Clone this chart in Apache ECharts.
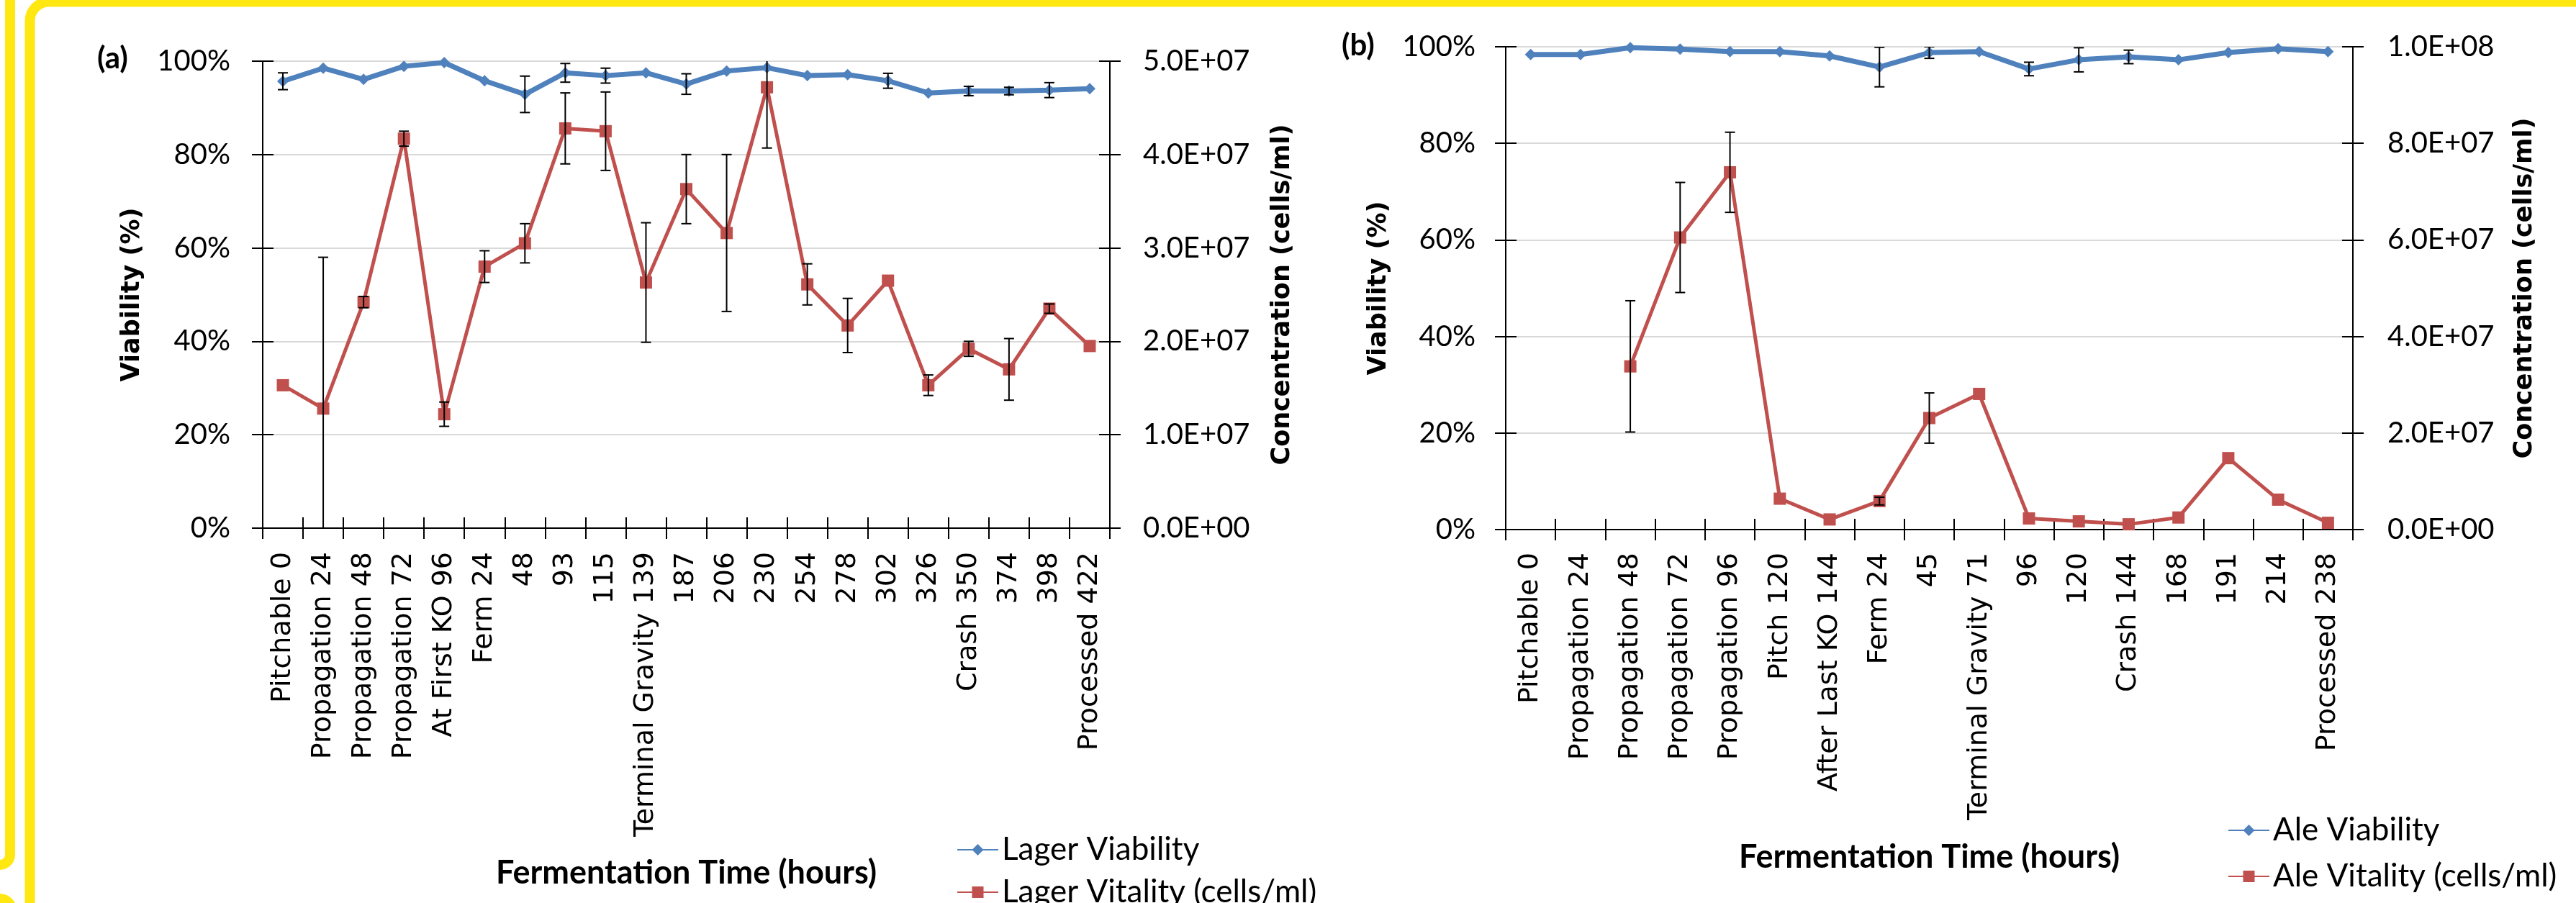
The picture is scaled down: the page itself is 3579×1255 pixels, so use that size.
<!DOCTYPE html>
<html>
<head>
<meta charset="utf-8">
<script src="https://cdn.jsdelivr.net/npm/echarts@6/dist/echarts.min.js"></script>
<style>
html,body{margin:0;padding:0;background:#fff;}
#chart{width:3579px;height:1255px;}
</style>
</head>
<body>
<div id="chart"></div>
<script>
// ---------- DATA ----------
const lagerCategories = ["Pitchable 0","Propagation 24","Propagation 48","Propagation 72","At First KO 96","Ferm 24","48","93","115","Terminal Gravity 139","187","206","230","254","278","302","326","Crash 350","374","398","Processed 422"];
const lagerViability = [0.957,0.985,0.961,0.989,0.997,0.958,0.929,0.975,0.969,0.975,0.951,0.979,0.986,0.969,0.971,0.958,0.932,0.936,0.936,0.938,0.941];
const lagerViabilityErr = [0.018,null,null,null,null,null,0.039,0.020,0.016,null,0.022,null,null,null,null,0.016,null,0.010,0.008,0.016,null];
const lagerVitality = [1.53e7,1.28e7,2.42e7,4.17e7,1.22e7,2.80e7,3.05e7,4.28e7,4.25e7,2.63e7,3.63e7,3.16e7,4.72e7,2.61e7,2.17e7,2.65e7,1.53e7,1.92e7,1.70e7,2.35e7,1.95e7];
const lagerVitalityErr = [null,1.62e7,0.6e6,0.8e6,1.3e6,1.7e6,2.1e6,3.8e6,4.2e6,6.4e6,3.7e6,8.4e6,6.5e6,2.2e6,2.9e6,null,1.1e6,0.8e6,3.3e6,0.5e6,null];

const aleCategories = ["Pitchable 0","Propagation 24","Propagation 48","Propagation 72","Propagation 96","Pitch 120","After Last KO 144","Ferm 24","45","Terminal Gravity 71","96","120","Crash 144","168","191","214","Processed 238"];
const aleViability = [0.984,0.984,0.998,0.995,0.990,0.990,0.981,0.958,0.988,0.990,0.954,0.973,0.979,0.973,0.988,0.996,0.990];
const aleViabilityErr = [null,null,null,null,null,null,null,0.041,0.012,null,0.014,0.025,0.014,null,null,null,null];
const aleVitality = [null,null,3.38e7,6.05e7,7.40e7,6.4e6,2.1e6,5.9e6,2.31e7,2.81e7,2.3e6,1.7e6,1.1e6,2.5e6,1.48e7,6.2e6,1.4e6];
const aleVitalityErr = [null,null,1.36e7,1.14e7,8.3e6,null,null,0.8e6,5.2e6,null,null,null,null,null,null,null,null];

const viabilityTicks = {min:0, max:1, interval:0.2};
const lagerConcTicks = {min:0, max:5e7, interval:1e7};
const aleConcTicks = {min:0, max:1e8, interval:2e7};

// ---------- HELPERS ----------
const BLUE = '#4F81BD', RED = '#C0504D', YEL = '#FFE812';
const LABEL_FONT = 'Lato';
function pct(v){ return Math.round(v*100) + '%'; }
function sci(v){
  if (v === 0) return '0.0E+00';
  const e = Math.floor(Math.log10(v) + 1e-9);
  const m = v / Math.pow(10, e);
  return m.toFixed(1) + 'E+' + String(e).padStart(2,'0');
}
function errData(vals, errs){
  const out = [];
  vals.forEach((v,i)=>{ if (v != null && errs[i] != null) out.push([i, v, errs[i]]); });
  return out;
}
function errRender(params, api){
  const i = api.value(0), v = api.value(1), e = api.value(2);
  const t = api.coord([i, v + e]);
  const b = api.coord([i, v - e]);
  const h = 7;
  const st = {stroke:'#000', lineWidth:2};
  return {type:'group', children:[
    {type:'line', shape:{x1:t[0],y1:t[1],x2:b[0],y2:b[1]}, style:st},
    {type:'line', shape:{x1:t[0]-h,y1:t[1],x2:t[0]+h,y2:t[1]}, style:st},
    {type:'line', shape:{x1:b[0]-h,y1:b[1],x2:b[0]+h,y2:b[1]}, style:st}
  ]};
}
const tickLabelStyle = {color:'#000', fontFamily:LABEL_FONT, fontSize:40};
const catLabelStyle = {color:'#000', fontFamily:'DejaVu Sans', fontSize:38, rotate:90, interval:0};

function xAxesFor(grid, cats, margin, nameGap){
  return [
    {type:'category', gridIndex:grid, data:cats, position:'bottom', boundaryGap:true,
     axisLine:{show:true, onZero:false, lineStyle:{color:'#000', width:2}},
     axisTick:{show:true, inside:false, length:15, interval:0, lineStyle:{color:'#000', width:2}},
     axisLabel:Object.assign({margin:margin}, catLabelStyle),
     splitLine:{show:false},
     name:'Fermentation Time (hours)', nameLocation:'middle', nameGap:nameGap, nameMoveOverlap:false,
     nameTextStyle:{color:'#000', fontFamily:LABEL_FONT, fontWeight:'bold', fontSize:45}},
    {type:'category', gridIndex:grid, data:cats, position:'bottom', offset:0, boundaryGap:true,
     axisLine:{show:false},
     axisTick:{show:true, inside:true, length:15, interval:0, lineStyle:{color:'#000', width:2}},
     axisLabel:{show:false}, splitLine:{show:false}},
    {type:'category', gridIndex:grid, data:cats, position:'top', offset:0, boundaryGap:true,
     axisLine:{show:true, lineStyle:{color:'#000', width:2}},
     axisTick:{show:false}, axisLabel:{show:false}, splitLine:{show:false}}
  ];
}
function yAxesFor(grid, conc, lm, rm, lgap, rgap){
  return [
    Object.assign({type:'value', gridIndex:grid, position:'left',
     axisLine:{show:true, lineStyle:{color:'#000', width:2}},
     axisTick:{show:true, length:15, lineStyle:{color:'#000', width:2}},
     axisLabel:Object.assign({margin:lm, formatter:pct}, tickLabelStyle),
     splitLine:{show:true, lineStyle:{color:'#D9D9D9', width:2}},
     name:'Viability (%)', nameLocation:'middle', nameRotate:90, nameGap:lgap,
     nameTextStyle:{color:'#000', fontFamily:'DejaVu Sans', fontWeight:'bold', fontSize:35}}, viabilityTicks),
    Object.assign({type:'value', gridIndex:grid, position:'right',
     axisLine:{show:true, lineStyle:{color:'#000', width:2}},
     axisTick:{show:true, length:15, lineStyle:{color:'#000', width:2}},
     axisLabel:Object.assign({margin:rm, formatter:sci}, tickLabelStyle),
     splitLine:{show:false},
     name:'Concentration (cells/ml)', nameLocation:'middle', nameRotate:90, nameGap:rgap,
     nameTextStyle:{color:'#000', fontFamily:'DejaVu Sans', fontWeight:'bold', fontSize:35}}, conc),
    Object.assign({type:'value', gridIndex:grid, position:'left', offset:0,
     axisLine:{show:false}, axisTick:{show:true, inside:true, length:15, lineStyle:{color:'#000', width:2}},
     axisLabel:{show:false}, splitLine:{show:false}}, viabilityTicks),
    Object.assign({type:'value', gridIndex:grid, position:'right', offset:0,
     axisLine:{show:false}, axisTick:{show:true, inside:true, length:15, lineStyle:{color:'#000', width:2}},
     axisLabel:{show:false}, splitLine:{show:false}}, conc)
  ];
}

const chart = echarts.init(document.getElementById('chart'), null, {renderer:'canvas'});
const xAxes = xAxesFor(0, lagerCategories, 33, 457).concat(xAxesFor(1, aleCategories, 32, 433));
const yAxes = yAxesFor(0, lagerConcTicks, 45, 46, 164, 222).concat(yAxesFor(1, aleConcTicks, 42, 48, 159, 221));

function lineSeries(name, data, xi, yi, color, width, symbol, size){
  return {type:'line', name:name, data:data, xAxisIndex:xi, yAxisIndex:yi,
    symbol:symbol, symbolSize:size, showSymbol:true, connectNulls:false,
    lineStyle:{color:color, width:width}, itemStyle:{color:color},
    emphasis:{disabled:true}, z:3};
}
function errSeries(vals, errs, xi, yi){
  return {type:'custom', data:errData(vals, errs), xAxisIndex:xi, yAxisIndex:yi,
    encode:{x:0, y:1}, renderItem:errRender, clip:true, z:5, silent:true};
}
const yStroke = {fill:'none', stroke:YEL, lineWidth:14};

const option = {
  animation:false,
  backgroundColor:'#fff',
  grid:[
    {left:365, right:3579-1542, top:85, bottom:1255-734, containLabel:false},
    {left:2092, right:3579-3269, top:65, bottom:1255-736, containLabel:false}
  ],
  xAxis:xAxes,
  yAxis:yAxes,
  legend:[
    {data:['Lager Viability','Lager Vitality (cells/ml)'], orient:'vertical', left:1329, top:1156,
     width:500, height:160, padding:0,
     itemWidth:57, itemHeight:20, itemGap:9, selectedMode:false,
     textStyle:{color:'#000', fontFamily:LABEL_FONT, fontSize:44, lineHeight:50}},
    {data:['Ale Viability','Ale Vitality (cells/ml)'], orient:'vertical', left:3095, top:1129,
     width:480, height:160, padding:0,
     itemWidth:57, itemHeight:20, itemGap:14, selectedMode:false,
     textStyle:{color:'#000', fontFamily:LABEL_FONT, fontSize:44, lineHeight:50}}
  ],
  graphic:[
    {type:'line', shape:{x1:14, y1:0, x2:14, y2:1188}, style:yStroke, silent:true},
    {type:'arc', shape:{cx:0, cy:1188, r:14, startAngle:0, endAngle:Math.PI/2, clockwise:true}, style:yStroke, silent:true},
    {type:'arc', shape:{cx:0, cy:1265, r:16, startAngle:-Math.PI/2, endAngle:0, clockwise:true}, style:yStroke, silent:true},
    {type:'line', shape:{x1:41.5, y1:1260, x2:41.5, y2:29}, style:yStroke, silent:true},
    {type:'arc', shape:{cx:68, cy:29, r:26.5, startAngle:Math.PI, endAngle:Math.PI*1.5, clockwise:true}, style:yStroke, silent:true},
    {type:'line', shape:{x1:68, y1:2.5, x2:3600, y2:2.5}, style:yStroke, silent:true},
    {type:'text', left:135, top:60, style:{text:'(a)', fill:'#000', font:'bold 42px Lato'}, silent:true},
    {type:'text', left:1864, top:42, style:{text:'(b)', fill:'#000', font:'bold 42px Lato'}, silent:true}
  ],
  series:[
    lineSeries('Lager Viability', lagerViability, 0, 0, BLUE, 7, 'diamond', 16),
    lineSeries('Lager Vitality (cells/ml)', lagerVitality, 0, 1, RED, 5, 'rect', 17),
    errSeries(lagerViability, lagerViabilityErr, 0, 0),
    errSeries(lagerVitality, lagerVitalityErr, 0, 1),
    lineSeries('Ale Viability', aleViability, 3, 4, BLUE, 7, 'diamond', 16),
    lineSeries('Ale Vitality (cells/ml)', aleVitality, 3, 5, RED, 5, 'rect', 17),
    errSeries(aleViability, aleViabilityErr, 3, 4),
    errSeries(aleVitality, aleVitalityErr, 3, 5)
  ]
};
chart.setOption(option);
</script>
</body>
</html>
